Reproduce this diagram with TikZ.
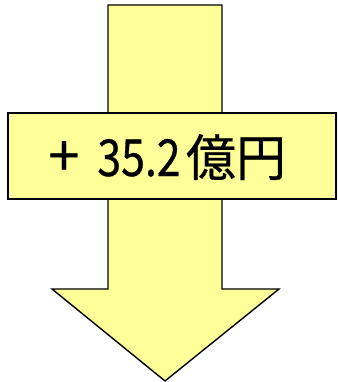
\documentclass[tikz,border=0pt]{standalone}
\usepackage{fontspec}
\newfontfamily\jpfont[FakeBold=0.6]{Noto Sans CJK JP}
\newfontfamily\jpnarrow[FakeStretch=0.84,FakeBold=0.6]{Noto Sans CJK JP}
\definecolor{fillyellow}{HTML}{FFFF99}
\begin{document}
\begin{tikzpicture}[x=1pt,y=-1pt,
  arrowshape/.style={fill=fillyellow,draw=black,line width=1.4pt,line join=miter},
  labelbox/.style={fill=fillyellow,draw=black,line width=2pt,minimum width=328pt,minimum height=86pt,inner sep=0pt,anchor=north west},
  numtext/.style={font=\jpnarrow\fontsize{51}{51}\selectfont,inner sep=0pt,anchor=base},
  plustext/.style={font=\jpfont\fontsize{56}{56}\selectfont,inner sep=0pt,anchor=base},
  unittext/.style={font=\jpfont\fontsize{50}{50}\selectfont,inner sep=0pt,anchor=base}]
\useasboundingbox (0,0) rectangle (338,382);
\draw[arrowshape] (108,5) -- (222,5) -- (222,289) -- (279,289) -- (165,381) -- (52,289) -- (108,289) -- cycle;
\node[labelbox] (box) at (7,112) {};
\node[plustext] (plus) at (64,176) {+};
\node[numtext] (num) at (139,176) {35.2};
\node[unittext] (unit) at (236,176) {億円};
\end{tikzpicture}
\end{document}
